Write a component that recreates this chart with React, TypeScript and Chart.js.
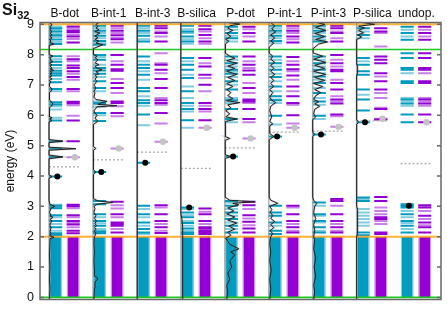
import React, { useEffect, useRef } from 'react';
import { Chart, registerables } from 'chart.js';

Chart.register(...registerables);

const FONT = "'Liberation Sans', Arial, sans-serif";

// ---------- data ----------
const columns = ['B-dot', 'B-int-1', 'B-int-3', 'B-silica', 'P-dot', 'P-int-1', 'P-int-3', 'P-silica', 'undop.'];
const energyTicks = [0, 1, 2, 3, 4, 5, 6, 7, 8, 9];
const orangeLevels = [2.0, 9.0];
const greenLevels = [0.0, 8.17];
const bandTopUp = [1.99, 1.99, 1.99, 2.02, 1.99, 1.99, 1.99, 1.99, 1.99];
const bandTopDown = [1.99, 1.99, 1.99, 2.02, 1.99, 1.99, 1.99, 1.99, 1.99];
const defectUp = [3.98, 4.13, 4.44, 2.96, 4.64, 5.30, 5.37, 5.77, 3.02];
const defectDown = [4.62, 4.91, 5.13, 5.59, 5.24, 5.59, 5.62, 5.89, 5.77];
const fermiLevel = [4.30, 4.53, 4.79, 4.25, 4.93, 5.45, 5.48, 5.82, 4.41];
const hasDos = [true, true, true, true, true, true, true, true, false];

const levelsUp = [
  [8.87, 8.76, 8.64, 8.50, 8.35, 7.95, 7.77, 7.66, 7.47, 7.39, 7.31, 7.09, 6.87, 6.43, 6.36, 5.83, 5.15, 4.90, 4.63, 3.98, 3.02, 2.94, 2.71, 2.52, 2.31, 2.11, 2.05],
  [8.95, 8.79, 8.62, 8.45, 8.33, 7.99, 7.83, 7.56, 7.48, 7.37, 7.12, 6.90, 6.41, 6.38, 6.08, 5.81, 4.13, 3.18, 3.07, 2.74, 2.52, 2.36, 2.18, 2.11],
  [8.95, 8.79, 8.62, 8.43, 7.94, 7.67, 7.56, 7.34, 6.90, 6.79, 6.50, 6.41, 6.03, 4.44, 3.02, 2.74, 2.47, 2.25, 2.14],
  [8.95, 8.76, 8.60, 8.43, 7.89, 7.67, 7.50, 7.23, 6.79, 6.41, 6.21, 5.84, 2.96, 2.80, 2.64, 2.45, 2.27, 2.14, 2.09],
  [8.92, 8.71, 8.54, 7.94, 7.72, 7.50, 7.37, 7.12, 6.85, 6.50, 6.21, 5.88, 4.64, 3.18, 3.02, 2.80, 2.58, 2.36, 2.14],
  [8.95, 8.79, 8.62, 8.45, 7.94, 7.72, 7.50, 7.26, 6.95, 6.63, 6.50, 5.99, 5.30, 3.02, 2.80, 2.69, 2.47, 2.20, 2.09],
  [8.95, 8.79, 8.60, 8.43, 7.94, 7.72, 7.50, 7.28, 7.07, 6.74, 6.46, 5.99, 5.37, 3.13, 2.74, 2.52, 2.31, 2.14],
  [8.87, 8.65, 7.89, 7.67, 7.45, 7.34, 6.85, 6.52, 6.16, 5.77, 3.29, 3.18, 2.14, 2.05],
  [8.92, 8.71, 8.49, 8.05, 7.89, 7.56, 7.50, 7.12, 7.07, 6.52, 6.39, 6.03, 5.77, 3.07, 3.02, 2.96, 2.74, 2.52, 2.36, 2.14],
];
const levelsUpFaint = [
  [8.93, 8.82, 8.70, 8.58, 8.42, 7.85, 7.56, 7.20, 6.79, 6.30, 6.19, 5.92, 3.05, 2.98, 2.64, 2.42, 2.20],
  [8.87, 8.71, 8.54, 8.38, 7.92, 7.67, 7.26, 6.79, 6.46, 6.28, 6.00, 2.64, 2.44, 2.25],
  [8.87, 8.71, 8.51, 7.78, 7.45, 7.17, 6.63, 6.32, 5.67, 2.91, 2.64, 2.36, 2.09],
  [8.84, 8.71, 8.51, 8.36, 7.78, 7.34, 6.95, 6.57, 6.32, 6.13, 5.59, 2.91, 2.71, 2.52, 2.36, 2.20],
  [8.82, 8.62, 8.43, 7.83, 7.61, 7.45, 7.26, 7.01, 6.57, 6.41, 5.77, 3.13, 2.91, 2.69, 2.47, 2.25],
  [8.87, 8.71, 8.54, 8.38, 7.83, 7.61, 7.37, 7.12, 6.79, 6.52, 6.41, 5.70, 2.36],
  [8.87, 8.71, 8.51, 7.83, 7.61, 7.39, 7.17, 6.90, 6.57, 6.35, 5.88, 3.02, 2.69, 2.47, 2.20],
  [8.76, 8.54, 7.78, 6.68, 3.24, 2.91, 2.80, 2.69, 2.58, 2.47, 2.36],
  [8.82, 8.60, 7.39, 6.57, 6.46, 6.32, 3.04, 2.85, 2.64, 2.45, 2.25],
];
const levelsDown = [
  [8.93, 8.80, 8.74, 8.60, 8.40, 7.85, 7.64, 7.56, 7.45, 7.26, 6.87, 6.45, 6.40, 5.83, 5.15, 3.05, 3.00, 2.71, 2.52, 2.40, 2.20, 2.11],
  [8.95, 8.79, 8.64, 8.51, 7.99, 7.67, 7.52, 7.50, 7.47, 7.07, 6.90, 6.46, 6.41, 6.08, 3.15, 2.74, 2.47, 2.42, 2.36, 2.14],
  [8.95, 8.87, 8.71, 8.43, 7.67, 7.50, 7.20, 6.90, 6.50, 6.41, 6.08, 3.04, 2.74, 2.52, 2.31, 2.12],
  [8.95, 8.84, 8.65, 8.43, 7.89, 7.61, 7.34, 7.01, 6.41, 6.21, 5.84, 2.93, 2.74, 2.52, 2.31, 2.27, 2.20, 2.14, 2.09],
  [8.92, 8.71, 8.43, 7.94, 7.67, 7.48, 7.34, 6.90, 6.52, 6.46, 6.21, 5.88, 3.15, 3.04, 2.71, 2.49, 2.27, 2.14],
  [8.95, 8.79, 8.60, 8.40, 7.92, 7.67, 7.52, 7.31, 6.95, 6.63, 6.41, 6.00, 3.02, 2.74, 2.52, 2.31, 2.14],
  [8.95, 8.87, 8.71, 8.43, 7.99, 7.72, 7.50, 7.45, 7.07, 6.85, 6.52, 6.39, 6.03, 3.24, 3.18, 2.74, 2.52, 2.31, 2.14],
  [8.87, 8.76, 7.94, 7.83, 7.72, 7.39, 7.12, 6.85, 6.21, 5.86, 3.31, 3.18, 2.64, 2.58, 2.14, 2.09],
  [8.92, 8.71, 8.49, 8.05, 7.89, 7.56, 7.50, 7.12, 7.07, 6.52, 6.39, 6.03, 5.77, 3.04, 2.96, 2.69, 2.47, 2.31, 2.14],
];
const levelsDownFaint = [
  [8.87, 8.66, 8.52, 7.95, 7.78, 7.37, 7.17, 6.79, 6.33, 5.99, 4.62, 2.94, 2.64, 2.45, 2.31],
  [8.87, 8.71, 8.56, 8.40, 7.78, 7.20, 6.74, 6.30, 5.97, 4.91, 3.04, 2.93, 2.64, 2.25],
  [8.76, 8.60, 8.05, 7.72, 7.39, 6.57, 6.35, 5.73, 5.13, 2.96, 2.42, 2.20],
  [8.76, 8.54, 8.36, 7.72, 7.23, 6.79, 6.32, 6.13, 5.59, 2.82, 2.42],
  [8.84, 8.60, 7.78, 7.56, 7.07, 6.74, 6.41, 5.77, 5.24, 2.91, 2.60, 2.38],
  [8.87, 8.71, 8.51, 7.78, 7.45, 7.17, 6.79, 6.35, 5.73, 5.59, 2.96, 2.42, 2.20],
  [8.76, 8.54, 7.83, 7.61, 7.17, 6.63, 6.46, 5.97, 5.62, 3.02, 2.42, 2.20],
  [8.71, 8.27, 7.28, 6.74, 6.57, 6.25, 5.89, 2.96, 2.85, 2.74, 2.52, 2.42],
  [8.82, 8.60, 7.39, 6.57, 6.46, 6.32, 2.85, 2.58, 2.38],
];

// density of states: [energy, DOS]
const dosBDot = [[-0.07, 0.5], [0.3, 1], [0.6, 0.5], [1.0, 1], [1.4, 0.5], [1.8, 1], [1.93, 1], [1.98, 5], [2.03, 1], [2.11, 2], [2.16, 1], [2.31, 2], [2.36, 1], [2.42, 1], [2.52, 3], [2.57, 1], [2.64, 4], [2.68, 1], [2.71, 2], [2.8, 0.5], [2.94, 2], [3.0, 6], [3.06, 1], [3.2, 0], [3.92, 0], [3.98, 3], [4.04, 0], [4.57, 0], [4.63, 14], [4.69, 0], [4.85, 0], [4.9, 27], [4.95, 0], [5.1, 0], [5.15, 14], [5.2, 0], [5.78, 0], [5.83, 3], [5.88, 0.5], [5.92, 3], [5.97, 0], [6.25, 0.5], [6.3, 2], [6.36, 4], [6.43, 3], [6.5, 0.5], [6.75, 0.5], [6.8, 2], [6.87, 3], [6.95, 0.5], [7.05, 0.5], [7.09, 2], [7.15, 0.5], [7.2, 3], [7.26, 0.5], [7.31, 3], [7.36, 1], [7.39, 3], [7.45, 1], [7.48, 5], [7.53, 1], [7.56, 3], [7.62, 1], [7.66, 3], [7.72, 0.5], [7.77, 4], [7.82, 1], [7.85, 2], [7.9, 0.5], [7.95, 4], [8.0, 0.5], [8.2, 0], [8.3, 0.5], [8.35, 5], [8.4, 1], [8.45, 2], [8.5, 0.5], [8.55, 3], [8.6, 1], [8.65, 3], [8.7, 1], [8.76, 3], [8.82, 1], [8.87, 2], [8.93, 1], [8.98, 3], [9.06, 1]];
const dosBInt1 = [[-0.07, 1], [0.3, 1.5], [0.5, 2], [0.62, 5], [0.7, 2], [0.9, 1.5], [1.2, 1], [1.5, 1.5], [1.8, 1], [2.0, 1.5], [2.11, 3], [2.18, 1.5], [2.25, 3], [2.3, 1.5], [2.36, 3.5], [2.44, 2], [2.52, 3.5], [2.6, 1.5], [2.7, 3], [2.8, 1], [2.93, 2], [3.0, 1], [3.07, 4], [3.13, 20], [3.18, 5], [3.25, 0.5], [4.05, 0.5], [4.13, 3], [4.2, 0.5], [4.85, 0.5], [4.91, 3], [4.97, 0.5], [5.7, 0.5], [5.81, 5], [5.9, 2], [6.0, 4], [6.08, 2], [6.15, 1], [6.28, 4], [6.32, 24], [6.36, 5], [6.41, 8], [6.46, 14], [6.52, 3], [6.6, 1], [6.74, 2], [6.79, 1], [6.9, 3], [7.0, 1], [7.12, 4], [7.2, 2], [7.26, 4], [7.32, 2], [7.37, 6], [7.44, 3], [7.5, 9], [7.56, 4], [7.62, 2], [7.67, 6], [7.73, 2], [7.83, 5], [7.9, 2], [7.95, 4], [8.02, 0.5], [8.2, 0.5], [8.33, 10], [8.38, 3], [8.45, 6], [8.5, 2], [8.56, 5], [8.62, 2], [8.71, 7], [8.76, 2], [8.82, 6], [8.88, 3], [8.93, 5], [9.0, 3], [9.06, 6]];
const dosBInt3 = [[-0.07, 0.5], [2.0, 0.5], [3.0, 0.3], [9.06, 0.3]];
const dosBSilica = [[-0.07, 2], [1.0, 2], [2.0, 2], [2.3, 1.5], [2.6, 1], [2.75, 0], [9.06, 0]];
const dosPDot = [[-0.07, 2], [0.2, 3], [0.4, 2], [0.6, 5], [0.8, 3], [1.0, 7], [1.2, 5], [1.4, 10], [1.5, 6], [1.6, 14], [1.75, 5], [1.85, 3], [1.95, 1], [2.05, 6], [2.15, 3], [2.25, 10], [2.35, 4], [2.45, 12], [2.55, 3], [2.65, 10], [2.75, 2], [2.85, 9], [2.95, 3], [3.05, 14], [3.1, 8], [3.15, 30], [3.2, 5], [3.3, 0.5], [4.58, 0.5], [4.64, 6], [4.7, 0.5], [5.18, 0.5], [5.24, 5], [5.3, 0.5], [5.6, 0.5], [5.8, 1], [5.88, 12], [5.95, 1], [6.05, 5], [6.15, 1], [6.25, 6], [6.35, 3], [6.42, 15], [6.48, 2], [6.55, 8], [6.65, 3], [6.75, 6], [6.85, 2], [6.95, 8], [7.05, 2], [7.15, 10], [7.25, 3], [7.35, 12], [7.45, 2], [7.55, 10], [7.62, 3], [7.72, 12], [7.8, 2], [7.88, 10], [7.95, 5], [8.05, 0.5], [8.2, 0.3], [8.35, 1], [8.45, 4], [8.5, 1], [8.6, 6], [8.7, 2], [8.8, 8], [8.87, 3], [8.95, 5], [9.01, 15], [9.06, 3]];
const dosPInt1 = [[-0.07, 1], [0.3, 2], [0.6, 1], [0.9, 2.5], [1.2, 1], [1.5, 2], [1.8, 1], [2.0, 2], [2.1, 4], [2.2, 1.5], [2.3, 5], [2.4, 2], [2.5, 6], [2.6, 2], [2.7, 4], [2.8, 1.5], [2.9, 3], [3.0, 1], [3.1, 9], [3.2, 2], [3.3, 0.5], [5.2, 0.5], [5.3, 5], [5.4, 1], [5.65, 1], [5.72, 4], [5.8, 1], [5.95, 3], [6.05, 2], [6.15, 1], [6.3, 2], [6.42, 7], [6.5, 3], [6.6, 1], [6.75, 4], [6.85, 1], [6.95, 5], [7.05, 2], [7.15, 5], [7.25, 2], [7.35, 6], [7.45, 2], [7.55, 5], [7.65, 2], [7.75, 6], [7.85, 2], [7.95, 4], [8.05, 0.5], [8.25, 0.5], [8.38, 5], [8.45, 2], [8.55, 6], [8.65, 2], [8.75, 7], [8.85, 3], [8.95, 6], [9.06, 2]];
const dosPInt3 = [[-0.07, 1], [0.2, 2], [0.4, 1], [0.7, 3], [1.0, 1.5], [1.3, 3], [1.6, 1], [1.9, 2], [2.0, 1], [2.2, 2], [2.4, 1], [2.6, 3], [2.8, 1], [3.0, 2], [3.1, 4], [3.2, 1], [3.3, 0], [5.3, 0], [5.37, 2], [5.45, 0], [5.85, 0], [5.95, 3], [6.05, 1], [6.2, 2], [6.3, 7], [6.38, 2], [6.45, 6], [6.52, 1], [6.65, 3], [6.75, 8], [6.85, 2], [6.95, 10], [7.05, 1], [7.15, 12], [7.25, 2], [7.35, 13], [7.45, 1], [7.55, 12], [7.65, 2], [7.75, 13], [7.85, 1], [7.95, 10], [8.05, 1], [8.2, 0.5], [8.35, 6], [8.42, 15], [8.5, 3], [8.6, 12], [8.7, 2], [8.8, 13], [8.9, 3], [9.0, 12], [9.06, 4]];
const dosPSilica = [[-0.07, 0], [2.0, 0], [2.1, 1], [2.9, 1], [3.0, 0], [5.7, 0], [5.77, 2], [5.85, 0], [7.3, 0], [7.4, 1], [7.6, 1], [7.7, 0], [8.5, 0], [8.58, 5], [8.65, 1], [8.72, 7], [8.8, 2], [8.88, 8], [8.94, 2], [9.0, 18], [9.06, 6]];
const dosCurves = [dosBDot, dosBInt1, dosBInt3, dosBSilica, dosPDot, dosPInt1, dosPInt3, dosPSilica];

// ---------- style constants ----------
const X_MIN = -0.205;
const X_MAX = 8.92;
const Y_MIN = -0.07;
const Y_MAX = 9.06;
const UP_X0 = 0;
const UP_X1 = 0.3;
const DN_X0 = 0.4;
const DN_X1 = 0.7;
const EDGE = 0.03;
const DOT_UP_X = 0.19;
const DOT_DN_X = 0.59;
const LABEL_X = 0.36;
const DOS_SCALE = 1 / 44;

const CYAN = 'rgb(0,155,190)';
const CYAN_FAINT = 'rgba(0,155,190,0.5)';
const CYAN_EDGE = 'rgb(140,205,225)';
const PURPLE = 'rgb(148,0,211)';
const PURPLE_FAINT = 'rgba(148,0,211,0.5)';
const PURPLE_EDGE = 'rgb(205,150,235)';

type P = { x: number; y: number | null };

function levelPoints(levels: number[][], x0: number, x1: number): P[] {
  const pts: P[] = [];
  levels.forEach((col, i) => {
    col.forEach((e) => {
      pts.push({ x: i + x0, y: e }, { x: i + x1, y: e }, { x: i + x1, y: null });
    });
  });
  return pts;
}

function buildDatasets() {
  const ds: any[] = [];
  const line = (data: P[], color: string, width: number, order: number, extra: any = {}) => ({
    data,
    borderColor: color,
    backgroundColor: color,
    borderWidth: width,
    pointRadius: 0,
    order,
    borderCapStyle: 'butt',
    ...extra,
  });

  // defect dots
  ds.push({
    data: defectUp.map((e, i) => ({ x: i + DOT_UP_X, y: e })),
    showLine: false,
    pointRadius: 3,
    pointBackgroundColor: '#000',
    pointBorderWidth: 0,
    order: 0,
  });
  ds.push({
    data: defectDown.map((e, i) => ({ x: i + DOT_DN_X, y: e })),
    showLine: false,
    pointRadius: 3.2,
    pointBackgroundColor: '#c4c4c4',
    pointBorderWidth: 0,
    order: 0,
  });

  // DOS curves
  dosCurves.forEach((curve, i) => {
    if (!hasDos[i]) return;
    const pts = curve.map(([e, d]) => ({ x: i + d * DOS_SCALE, y: e }));
    ds.push(line(pts, '#222', 1, 1));
    ds.push(line(pts, 'rgba(120,120,120,0.3)', 2, 2));
  });

  // reference lines
  orangeLevels.forEach((e) => ds.push(line([{ x: X_MIN, y: e }, { x: X_MAX, y: e }], 'rgba(255,165,20,0.85)', 2, 4)));
  greenLevels.forEach((e) => ds.push(line([{ x: X_MIN, y: e }, { x: X_MAX, y: e }], 'rgb(30,200,30)', 1.6, 4)));

  // Fermi (dotted) lines
  const fermiPts: P[] = [];
  fermiLevel.forEach((e, i) => fermiPts.push({ x: i + UP_X0, y: e }, { x: i + DN_X1, y: e }, { x: i + DN_X1, y: null }));
  ds.push(line(fermiPts, '#a8a8a8', 1.2, 5, { borderDash: [2, 2] }));

  // levels
  ds.push(line(levelPoints(levelsUp, UP_X0, UP_X1), CYAN, 2, 6));
  ds.push(line(levelPoints(levelsDown, DN_X0, DN_X1), PURPLE, 2, 6));
  ds.push(line(levelPoints(levelsUpFaint, UP_X0, UP_X1), CYAN_FAINT, 2, 7));
  ds.push(line(levelPoints(levelsDownFaint, DN_X0, DN_X1), PURPLE_FAINT, 2, 7));

  // filled valence bands
  const block = (x0: number, x1: number, top: number, color: string, order: number) => ({
    data: [{ x: x0, y: top }, { x: x1, y: top }],
    borderColor: 'rgba(0,0,0,0)',
    backgroundColor: color,
    borderWidth: 1,
    pointRadius: 0,
    fill: 'origin',
    order,
  });
  columns.forEach((_, i) => {
    ds.push(block(i + UP_X0 + EDGE, i + UP_X1 - EDGE, bandTopUp[i], CYAN, 8));
    ds.push(block(i + UP_X0, i + UP_X1, bandTopUp[i], CYAN_EDGE, 9));
    ds.push(block(i + DN_X0 + EDGE, i + DN_X1 - EDGE, bandTopDown[i], PURPLE, 8));
    ds.push(block(i + DN_X0, i + DN_X1, bandTopDown[i], PURPLE_EDGE, 9));
  });

  // DOS baselines
  columns.forEach((_, i) => {
    if (!hasDos[i]) return;
    ds.push(line([{ x: i, y: Y_MIN }, { x: i, y: Y_MAX }], 'rgba(130,130,130,0.6)', 1.5, 3));
  });

  return ds;
}

const framePlugin = {
  id: 'frameTicks',
  afterDatasetsDraw(chart: any) {
    const { ctx, chartArea: a, scales } = chart;
    ctx.save();
    ctx.strokeStyle = '#6a6a6a';
    ctx.lineWidth = 1.5;
    ctx.strokeRect(a.left, a.top, a.right - a.left, a.bottom - a.top);
    ctx.beginPath();
    energyTicks.forEach((v) => {
      const y = scales.y.getPixelForValue(v);
      ctx.moveTo(a.left, y);
      ctx.lineTo(a.left + 4, y);
      ctx.moveTo(a.right, y);
      ctx.lineTo(a.right - 4, y);
    });
    ctx.stroke();
    ctx.restore();
  },
};

export default function App() {
  const ref = useRef<HTMLCanvasElement>(null);

  useEffect(() => {
    if (!ref.current) return;
    const chart = new Chart(ref.current, {
      type: 'line',
      data: { datasets: buildDatasets() },
      options: {
        responsive: false,
        animation: false,
        events: [],
        spanGaps: false,
        layout: { padding: { left: 0, right: 6, top: 0, bottom: 12.3 } },
        plugins: { legend: { display: false }, tooltip: { enabled: false }, title: { display: false } },
        scales: {
          x: {
            type: 'linear',
            position: 'top',
            min: X_MIN,
            max: X_MAX,
            grid: { display: false, drawTicks: false },
            border: { display: false },
            afterBuildTicks: (s: any) => {
              s.ticks = columns.map((_, i) => ({ value: i + LABEL_X }));
            },
            afterFit: (s: any) => {
              s.height = 22.5;
            },
            ticks: {
              autoSkip: false,
              maxRotation: 0,
              padding: 1.5,
              color: '#111',
              font: { family: FONT, size: 12 },
              callback: (_v: any, idx: number) => columns[idx],
            },
          },
          y: {
            type: 'linear',
            min: Y_MIN,
            max: Y_MAX,
            grid: { display: false, drawTicks: false },
            border: { display: false },
            afterBuildTicks: (s: any) => {
              s.ticks = energyTicks.map((v) => ({ value: v }));
            },
            afterFit: (s: any) => {
              s.width = 40;
            },
            ticks: {
              padding: 6,
              color: '#111',
              font: { family: FONT, size: 12.5 },
              callback: (v: any) => String(v),
            },
            title: {
              display: true,
              text: 'energy (eV)',
              color: '#111',
              font: { family: FONT, size: 12 },
              padding: { top: 3, bottom: 0 },
            },
          },
        },
      },
      plugins: [framePlugin],
    } as any);
    return () => chart.destroy();
  }, []);

  return (
    <div style={{ position: 'fixed', left: 0, top: 0, width: 447, height: 313, background: '#fff' }}>
      <canvas ref={ref} width={447} height={313} style={{ display: 'block' }} />
      <div
        style={{
          position: 'absolute',
          left: 2,
          top: 1,
          fontFamily: FONT,
          fontWeight: 'bold',
          fontSize: 16,
          lineHeight: '18px',
          color: '#111',
          whiteSpace: 'nowrap',
        }}
      >
        Si<span style={{ fontSize: 11, position: 'relative', top: 4 }}>32</span>
      </div>
    </div>
  );
}
